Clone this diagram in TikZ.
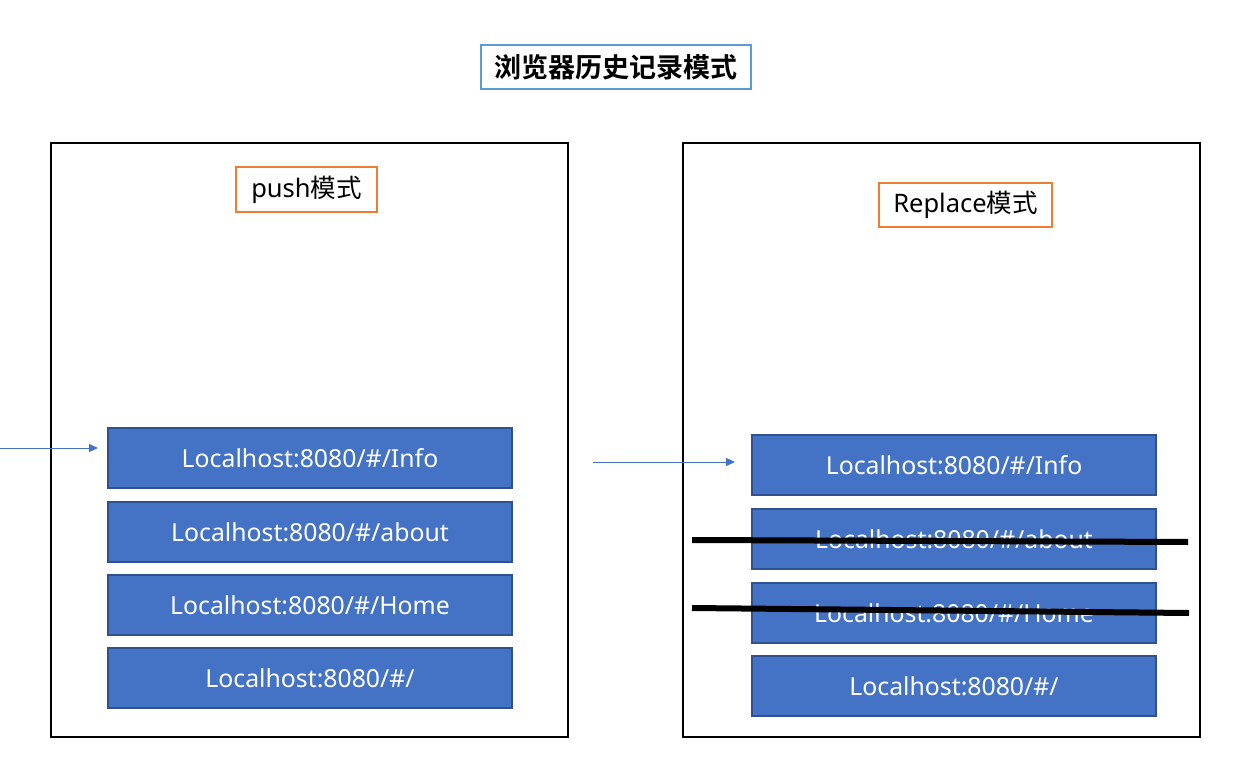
\documentclass[tikz,border=0pt]{standalone}
\usepackage{fontspec}
\setmainfont{Noto Sans}
\newfontfamily\cjk{Noto Sans CJK SC}
\newfontfamily\cjkbold{Noto Sans CJK SC Bold}
\usetikzlibrary{arrows.meta}
\definecolor{urlblue}{HTML}{4472C4}
\definecolor{urledge}{HTML}{2F528F}
\definecolor{modeorange}{HTML}{ED7D31}
\definecolor{titleblue}{HTML}{5B9BD5}
\tikzset{
  urlbox/.style={draw=urledge, line width=1.5pt, fill=urlblue, text=white,
    minimum width=404, minimum height=60, inner sep=0pt, font=\fontsize{24.8}{28}\selectfont},
  modebox/.style={draw=modeorange, line width=2pt, inner sep=0pt, font=\fontsize{25.5}{28}\selectfont},
  frame/.style={draw, line width=1.5pt},
  pointer/.style={draw=urlblue, line width=1pt, -{Triangle[length=9pt,width=8pt]}},
  strike/.style={draw, line width=6pt}
}
\begin{document}
\begin{tikzpicture}[x=1pt,y=-1pt]
\useasboundingbox (0,0) rectangle (1239,757);

\node[draw=titleblue, line width=2pt, minimum width=270, minimum height=44, inner sep=0pt,
  font=\cjkbold\fontsize{27}{30}\selectfont] (title) at (616,67) {浏览器历史记录模式}; % title

\node[frame, minimum width=517, minimum height=594] (pushframe) at (309.5,440) {}; % left
\node[frame, minimum width=517, minimum height=594] (replaceframe) at (941.5,440) {}; % right

\node[modebox, minimum width=141, minimum height=45] (pushmode) at (306.5,189.5) {push{\cjk 模式}};
\node[modebox, minimum width=173, minimum height=44] (replacemode) at (965.5,205) {Replace{\cjk 模式}};

% push stack
\node[urlbox] (pinfo) at (310,458) {Localhost:8080/\#/Info};
\node[urlbox] (pabout) at (310,532) {Localhost:8080/\#/about};
\node[urlbox] (phome) at (310,605) {Localhost:8080/\#/Home};
\node[urlbox] (proot) at (310,678) {Localhost:8080/\#/};

% replace stack
\node[urlbox] (rinfo) at (954,465) {Localhost:8080/\#/Info};
\node[urlbox] (rabout) at (954,539) {Localhost:8080/\#/about};
\node[urlbox] (rhome) at (954,613) {Localhost:8080/\#/Home};
\node[urlbox] (rroot) at (954,686) {Localhost:8080/\#/};

\coordinate (pin) at (0,448); \coordinate (pat) at (98,448);
\coordinate (rin) at (593,462); \coordinate (rat) at (735,462);
\draw[pointer] (pin) -- (pat);
\draw[pointer] (rin) -- (rat);

\coordinate (s1a) at (692,540); \coordinate (s1b) at (1188,542);
\coordinate (s2a) at (692,608); \coordinate (s2b) at (1189,613);
\draw[strike] (s1a) -- (s1b); % about removed
\draw[strike] (s2a) -- (s2b); % home removed

\end{tikzpicture}
\end{document}
